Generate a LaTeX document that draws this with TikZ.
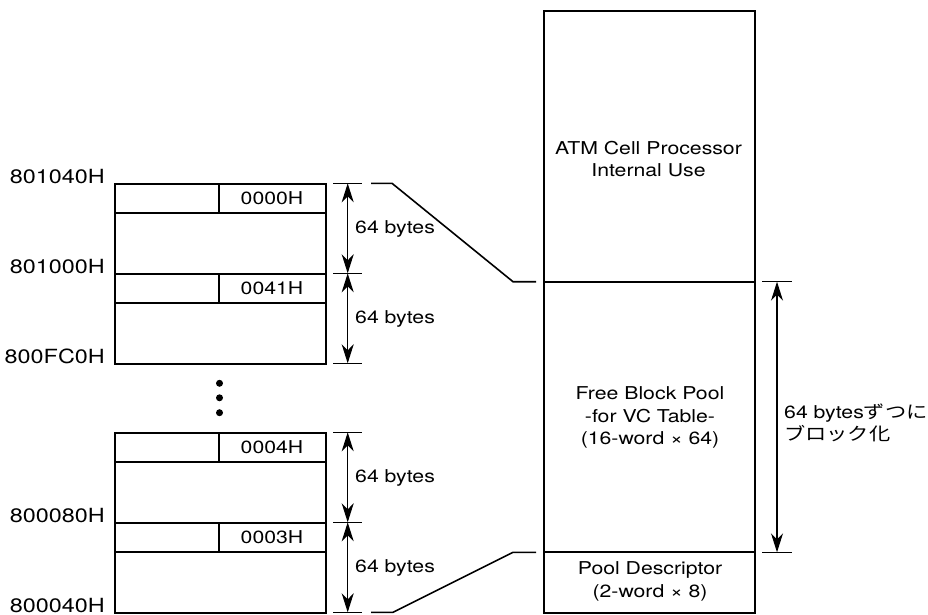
\documentclass[tikz,border=0pt]{standalone}
\usepackage{fontspec}
\setmainfont[FakeStretch=1.2]{TeX Gyre Heros}
\newfontfamily\cjk[FakeStretch=1.2]{Noto Sans CJK JP}
\usetikzlibrary{arrows.meta}
\tikzset{
  thickline/.style={line width=2.2pt},
  thinline/.style={line width=1.1pt},
  linkline/.style={line width=1.6pt},
  lbl/.style={font=\fontsize{17.7}{22.5}\selectfont, inner sep=0pt, align=center},
  addr/.style={font=\fontsize{19.5}{22}\selectfont, anchor=base east, inner sep=0pt},
  blockbox/.style={draw, thickline, minimum width=211pt, minimum height=90pt, anchor=north west, inner sep=0pt},
  dimarrow/.style={thinline, {Stealth[length=19pt,width=12pt,inset=6pt]}-{Stealth[length=19pt,width=12pt,inset=6pt]}},
  dimtick/.style={thinline},
  dotmark/.style={circle, fill=black, inner sep=0pt, minimum size=7pt}
}
\begin{document}
\begin{tikzpicture}[x=1pt,y=-1pt]
\useasboundingbox (0,0) rectangle (928,615);

% ---- left memory blocks ----
\foreach \n/\t/\id in {1/183/0000H, 2/273/0041H, 3/432/0004H, 4/522/0003H}{
  \node[blockbox] (blk\n) at (114,\t) {};
  \draw[thinline] (114,\t+30) -- (325,\t+30);
  \draw[thinline] (219,\t) -- (219,\t+30);
  \node[lbl] (id\n) at (272,\t+15) {\id};
}

% addresses
\node[addr] (a1) at (105,183) {801040H};
\node[addr] (a2) at (105,273) {801000H};
\node[addr] (a3) at (105,363) {800FC0H};
\node[addr] (a4) at (105,522) {800080H};
\node[addr] (a5) at (105,612.5) {800040H};

% dots
\node[dotmark] (d1) at (219.5,383.3) {};
\node[dotmark] (d2) at (219.5,397.8) {};
\node[dotmark] (d3) at (219.5,412.7) {};

% ---- left dimension lines ----
\foreach \i/\y in {1/183.3,2/273.3,3/363.3,4/432.3,5/522.3,6/612.3}{
  \coordinate (tk\i) at (347.7,\y);
  \draw[dimtick] (333,\y) -- (362,\y);
}
\draw[dimarrow] (tk1) -- (tk2);
\draw[dimarrow] (tk2) -- (tk3);
\draw[dimarrow] (tk4) -- (tk5);
\draw[dimarrow] (tk5) -- (tk6);
\node[lbl, anchor=west] (s1) at (355,229) {64 bytes};
\node[lbl, anchor=west] (s2) at (355,319) {64 bytes};
\node[lbl, anchor=west] (s3) at (355,478) {64 bytes};
\node[lbl, anchor=west] (s4) at (355,568) {64 bytes};

% ---- right memory map ----
\node[draw, thickline, minimum width=211pt, minimum height=602pt, anchor=north west, inner sep=0pt] (ram) at (543,10) {};
\coordinate (fbtop) at (543,281.7);
\coordinate (fbbot) at (543,552.3);
\draw[thickline] (fbtop) -- (754,281.7);
\draw[thickline] (fbbot) -- (754,552.3);
\node[lbl] (atm) at (648.5,159) {ATM Cell Processor\\Internal Use};
\node[lbl] (fbp) at (650,417.5) {Free Block Pool\\-for VC Table-\\(16-word × 64)};
\node[lbl] (pd) at (650,581.5) {Pool Descriptor\\(2-word × 8)};

% ---- connectors ----
\coordinate (c1a) at (371,183.3);
\coordinate (c1b) at (392,183.3);
\coordinate (c1c) at (513,281.7);
\coordinate (c1d) at (536,281.7);
\draw[linkline] (c1a) -- (c1b) -- (c1c) -- (c1d);
\coordinate (c2a) at (371,612.3);
\coordinate (c2b) at (393,612.3);
\coordinate (c2c) at (513,552.3);
\coordinate (c2d) at (536,552.3);
\draw[linkline] (c2a) -- (c2b) -- (c2c) -- (c2d);

% ---- right dimension ----
\coordinate (rt1) at (777,281.7);
\coordinate (rt2) at (777,552.3);
\draw[dimtick] (762,281.7) -- (792,281.7);
\draw[dimtick] (762,552.3) -- (792,552.3);
\draw[dimarrow] (rt1) -- (rt2);
\node[lbl, anchor=west, align=left] (rl) at (784,423) {64 bytes{\cjk ずつに}\\{\cjk ブロック化}};
\end{tikzpicture}
\end{document}
